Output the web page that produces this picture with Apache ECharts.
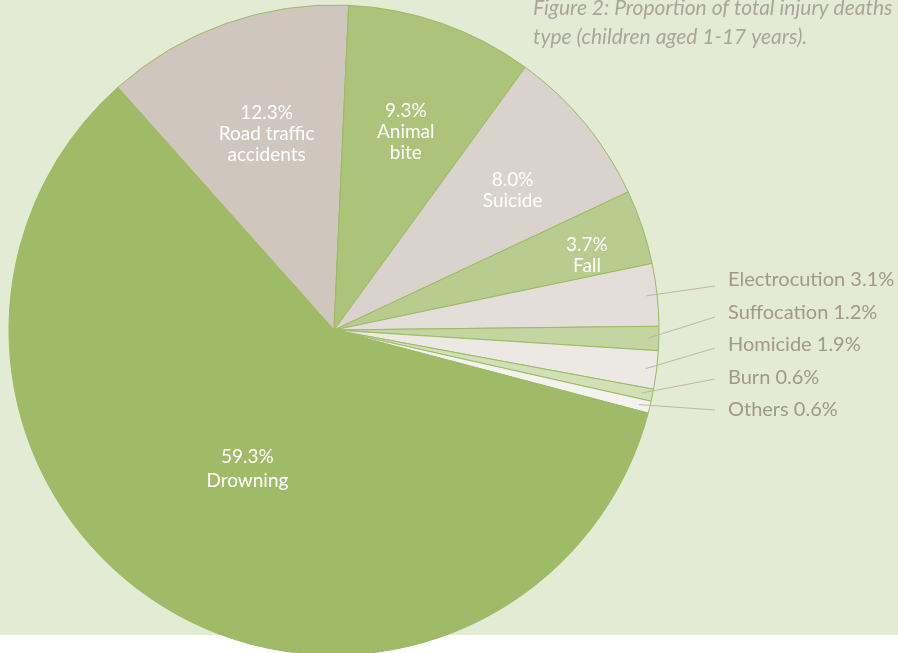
<!DOCTYPE html>
<html><head><meta charset="utf-8">
<script src="https://cdn.jsdelivr.net/npm/echarts@6/dist/echarts.min.js"></script>
<style>
html,body{margin:0;padding:0;background:#fff;}
#bg{position:absolute;left:0;top:0;width:898px;height:635px;background:#e3ebd4;}
#chart{position:absolute;left:0;top:0;width:898px;height:653px;}
</style></head><body>
<div id="bg"></div><div id="chart"></div>
<script>
const categories = ['Road traffic accidents', 'Animal bite', 'Suicide', 'Fall', 'Electrocution', 'Suffocation', 'Homicide', 'Burn', 'Others', 'Drowning'];
const labelNames = ['Road traffic\naccidents', 'Animal\nbite', 'Suicide', 'Fall', 'Electrocution', 'Suffocation', 'Homicide', 'Burn', 'Others', 'Drowning'];
const values = [12.3, 9.3, 8.0, 3.7, 3.1, 1.2, 1.9, 0.6, 0.6, 59.3];
const outsideFlags = [false, false, false, false, true, true, true, true, true, false];
const sliceColors = ['#cfc7be', '#abc47a', '#d9d2cd', '#b8cc8f', '#e3ded9', '#c3d6a1', '#ece8e4', '#d2e0b8', '#f4f2ef', '#a0bb67'];
const titleLines = ['Figure 2: Proportion of total injury deaths by', 'type (children aged 1-17 years).'];

const CX = 334, CY = 330, R = 325, START = 131.7, R_LINE = 314;
const total = values.reduce((a, b) => a + b, 0);
const midAngles = [];
{ let acc = 0; values.forEach(v => { midAngles.push(START - 360 * (acc + v / 2) / total); acc += v; }); }
// label nudges (style only)
const insideShift = {0: [-12, -40], 1: [17, -42], 2: [51, -34], 3: [96, -22], 9: [0, -2]};

const chart = echarts.init(document.getElementById('chart'), null, {renderer: 'canvas'});

const mainData = categories.map((c, i) => ({
  name: c,
  value: values[i],
  itemStyle: {color: sliceColors[i]},
  label: outsideFlags[i] ? {show: false} : {
    show: true,
    position: 'inside',
    formatter: values[i].toFixed(1) + '%\n' + labelNames[i],
    color: '#ffffff', fontSize: 19, lineHeight: i === 9 ? 24 : 21, fontFamily: 'Lato', align: 'center'
  },
  labelLine: {show: false}
}));

const overlayData = categories.map((c, i) => ({
  name: c,
  value: values[i],
  label: outsideFlags[i] ? {
    show: true,
    position: 'outside',
    formatter: labelNames[i] + ' ' + values[i].toFixed(1) + '%',
    color: '#a1978d', fontSize: 20, fontFamily: 'Lato'
  } : {show: false},
  labelLine: {show: outsideFlags[i], lineStyle: {color: '#bdb5ac', width: 1}}
}));

chart.setOption({
  animation: false,
  backgroundColor: 'transparent',
  title: {
    text: titleLines.join('\n'),
    left: 528, top: -11,
    textStyle: {fontFamily: 'Lato', fontStyle: 'italic', fontWeight: 'normal', fontSize: 21, lineHeight: 29, color: '#aba49c'}
  },
  series: [{
    type: 'pie',
    center: [CX, CY],
    radius: [0, R],
    startAngle: START,
    clockwise: true,
    avoidLabelOverlap: false,
    silent: true,
    z: 2,
    itemStyle: {borderColor: '#9cb960', borderWidth: 1},
    data: mainData,
    labelLayout: function (params) {
      const sh = insideShift[params.dataIndex] || [0, 0];
      return {dx: sh[0], dy: sh[1]};
    }
  }, {
    type: 'pie',
    center: [CX, CY],
    radius: [0, R_LINE],
    startAngle: START,
    clockwise: true,
    avoidLabelOverlap: false,
    silent: true,
    z: 3,
    itemStyle: {color: 'rgba(0,0,0,0)', borderWidth: 0},
    data: overlayData,
    labelLayout: function (params) {
      const i = params.dataIndex;
      if (!outsideFlags[i]) return {};
      const k = i - 4;
      const y = 280 + k * 32.5;
      const a = midAngles[i] * Math.PI / 180;
      const start = [CX + R_LINE * Math.cos(a), CY - R_LINE * Math.sin(a)];
      const end = [715, y + (4 - k) * 1.5];
      return {x: 728, y: y, align: 'left', verticalAlign: 'middle', labelLinePoints: [start, end]};
    }
  }]
});
</script>
</body></html>
